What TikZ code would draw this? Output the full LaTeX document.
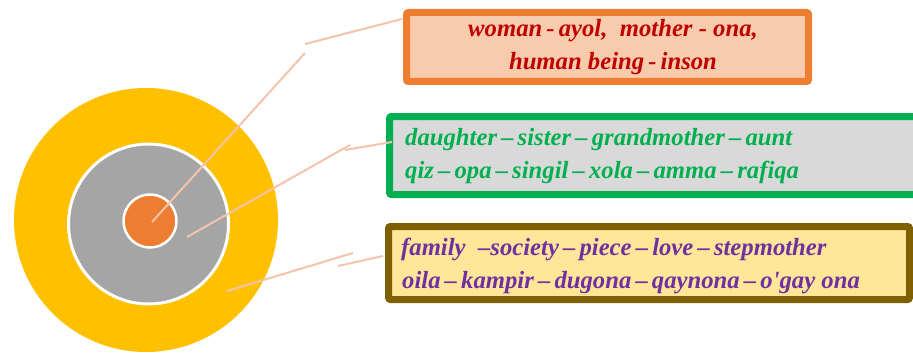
\documentclass[tikz,border=0pt]{standalone}
\usepackage{fontspec}
\setmainfont{Liberation Serif}
\definecolor{yel}{HTML}{FFC000}
\definecolor{gry}{HTML}{A5A5A5}
\definecolor{org}{HTML}{ED7D31}
\definecolor{pinkline}{HTML}{F4C3AB}
\definecolor{box1fill}{HTML}{F8CBAD}
\definecolor{box2fill}{HTML}{D9D9D9}
\definecolor{box2draw}{HTML}{00B050}
\definecolor{box3fill}{HTML}{FFE699}
\definecolor{box3draw}{HTML}{7F6000}
\definecolor{txtred}{HTML}{C00000}
\definecolor{txtgreen}{HTML}{00B050}
\definecolor{txtpurple}{HTML}{7030A0}
\tikzset{
  lbl/.style={font=\fontsize{24.7}{28}\selectfont\bfseries\itshape, inner sep=0pt},
  callout/.style={draw=pinkline, line width=2pt},
  boxstyle/.style={line width=7pt, rounded corners=2pt},
}
\begin{document}
\begin{tikzpicture}[x=1pt,y=-1pt]
\useasboundingbox (0,0) rectangle (913,353);
\clip (0,0) rectangle (913,353);
% rings
\fill[yel] (146,220) circle (132);
\filldraw[fill=gry, draw=white, line width=3pt] (148.5,224) circle (80);
\filldraw[fill=org, draw=white, line width=2.5pt] (150,221) circle (26.5);
% boxes
\draw[boxstyle, draw=org, fill=box1fill] (406.5,12.5) rectangle (808.5,81.5);
\node (b1) at (607.5,47) {};
\draw[boxstyle, draw=box2draw, fill=box2fill] (389.5,116.5) rectangle (930,194.5);
\node (b2) at (650,155) {};
\draw[boxstyle, draw=box3draw, fill=box3fill] (388.5,226.5) rectangle (909.5,299.5);
\node (b3) at (649,263) {};
% texts
\node[lbl, text=txtred, anchor=base] (t1a) at (613,37) {woman\,-\,ayol,\ \ mother - ona,};
\node[lbl, text=txtred, anchor=base] (t1b) at (613,70) {human being\,-\,inson};
\node[lbl, text=txtgreen, anchor=base west] (t2a) at (405,145) {daughter\,–\,sister\,–\,grandmother\,–\,aunt};
\node[lbl, text=txtgreen, anchor=base west] (t2b) at (405,178) {qiz\,–\,opa\,–\,singil\,–\,xola\,–\,amma\,–\,rafiqa};
\node[lbl, text=txtpurple, anchor=base west] (t3a) at (401,255) {family\ \ –society\,–\,piece\,–\,love\,–\,stepmother};
\node[lbl, text=txtpurple, anchor=base west] (t3b) at (402,288) {oila\,–\,kampir\,–\,dugona\,–\,qaynona\,–\,o\textquotesingle gay ona};
% callout coordinates
\coordinate (c1a) at (152,222);
\coordinate (c1b) at (305,53);
\coordinate (c1c) at (305,44);
\coordinate (c1d) at (402,19);
\coordinate (c2a) at (187,237);
\coordinate (c2b) at (350,145);
\coordinate (c2c) at (345,150);
\coordinate (c2d) at (392,142);
\coordinate (c3a) at (227,291);
\coordinate (c3b) at (353,253);
\coordinate (c3c) at (338,266);
\coordinate (c3d) at (383,256);
\draw[callout] (c1a) -- (c1b);
\draw[callout] (c1c) -- (c1d);
\draw[callout] (c2a) -- (c2b);
\draw[callout] (c2c) -- (c2d);
\draw[callout] (c3a) -- (c3b);
\draw[callout] (c3c) -- (c3d);
\end{tikzpicture}
\end{document}
